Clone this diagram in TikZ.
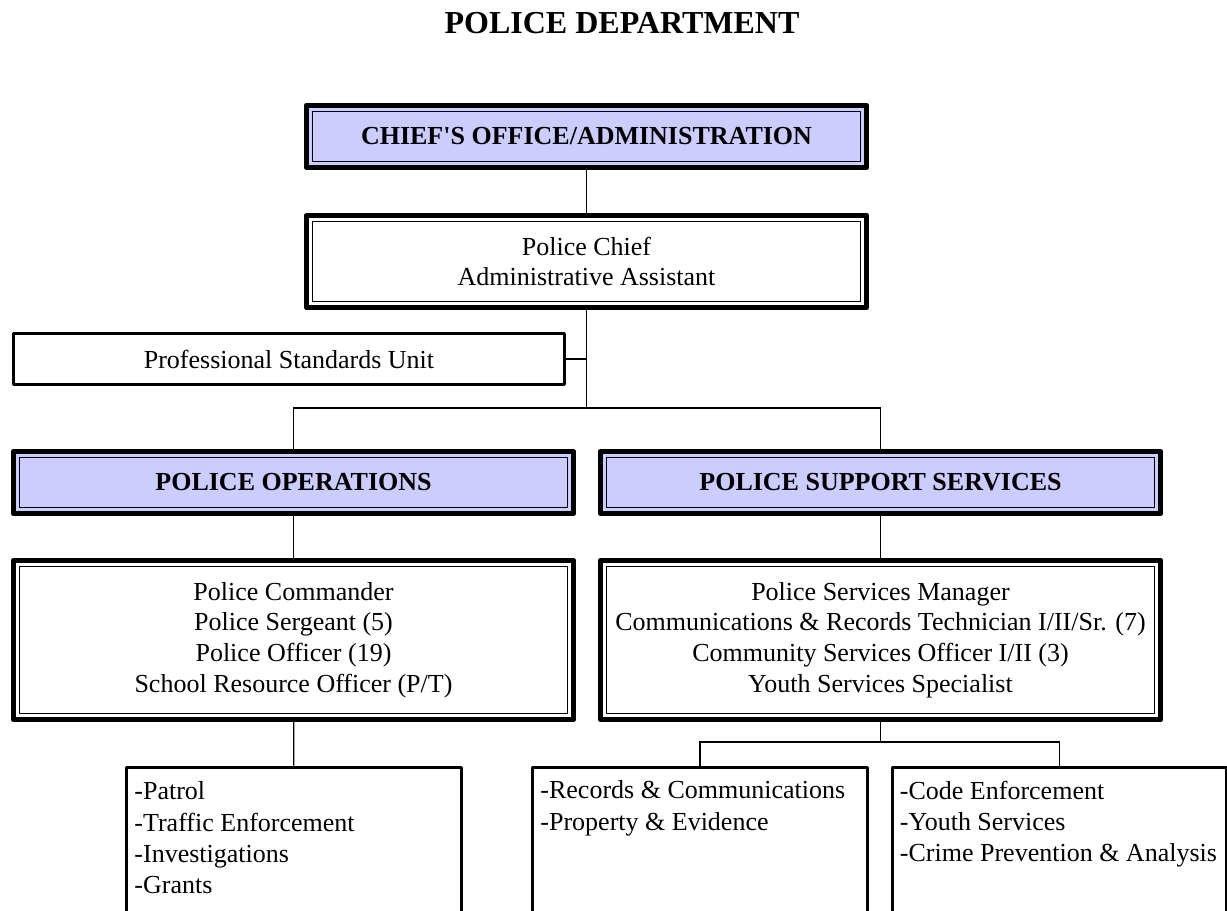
\documentclass[tikz,border=0pt]{standalone}
\usepackage{fontspec}
\setmainfont{Liberation Serif}
\usetikzlibrary{positioning,calc}
\definecolor{cHead}{HTML}{CCCCFF}
\tikzset{
  dblbox/.style ={draw,line width=4pt,line join=round,inner sep=0pt,align=center,
                  font=\fontsize{19.5}{23}\selectfont,
                  path picture={\draw[line width=0.8pt]
                    ([shift={(4.5pt,-4.5pt)}]path picture bounding box.north west) rectangle
                    ([shift={(-4.5pt,4.5pt)}]path picture bounding box.south east);}},
  hdbox/.style  ={dblbox,fill=cHead,font=\fontsize{19.5}{23}\selectfont\bfseries,
                  minimum width=420pt,minimum height=46.5pt},
  staff/.style  ={dblbox,fill=white,minimum width=420pt},
  subbox/.style ={draw,line width=2.25pt,line join=round,inner sep=0pt,fill=white,
                  font=\fontsize{19.5}{23.25}\selectfont},
  duty/.style   ={align=left,inner sep=0pt,anchor=north west,
                  font=\fontsize{19.5}{23.5}\selectfont},
  wire/.style   ={draw,line width=1pt},
}

\begin{document}
\begin{tikzpicture}[x=0.75pt,y=-0.75pt]
\useasboundingbox (0,0) rectangle (1227,910);
\clip (0,0) rectangle (1227,910);

\node[font=\fontsize{24}{28}\selectfont\bfseries] (title) at (622,23) {POLICE DEPARTMENT};

\node[hdbox] (chief) at (586.5,136.5) {CHIEF\textquotesingle S OFFICE/ADMINISTRATION};
\node[staff,minimum height=69pt] (pchief) at (586.5,261.5)
  {Police Chief\\Administrative Assistant};
\node[subbox,minimum width=413.25pt,minimum height=38.25pt] (psu) at (289,359)
  {Professional Standards Unit};

\node[hdbox] (ops) at (293.5,482.5) {POLICE OPERATIONS};
\node[hdbox] (sup) at (880.5,482.5) {POLICE SUPPORT SERVICES};

\node[staff,minimum height=119.25pt] (opsd) at (293.5,640)
  {Police Commander\\Police Sergeant (5)\\Police Officer (19)\\School Resource Officer (P/T)};
\node[staff,minimum height=119.25pt] (supd) at (880.5,640)
  {Police Services Manager\\Communications \& Records Technician I/II/Sr. (7)\\
   Community Services Officer I/II (3)\\Youth Services Specialist};

% open-ended boxes at the foot of the page
\foreach \n/\x in {bl/294,bm/700,br/1059.5}
  {\node[subbox,minimum width=251pt,minimum height=150pt,anchor=north] (\n) at (\x,765.5) {};}

\node[duty] (blt) at ($(bl.north west)+(9,16)$)
  {-Patrol\\-Traffic Enforcement\\-Investigations\\-Grants};
\node[duty] (bmt) at ($(bm.north west)+(9,15)$)
  {-Records \& Communications\\-Property \& Evidence};
\node[duty] (brt) at ($(br.north west)+(9,15)$)
  {-Code Enforcement\\-Youth Services\\-Crime Prevention \& Analysis};

\coordinate (jn) at (pchief.south |- 0,408);
\coordinate (jb) at (supd.south |- 0,742);

\draw[wire] (chief) -- (pchief);
\draw[wire] (pchief) -- (jn);
\draw[wire] (psu.east) -- (psu.east -| jn);
\draw[wire] (ops.north) |- (jn) -| (sup.north);
\draw[wire] (ops) -- (opsd);
\draw[wire] (sup) -- (supd);
\draw[wire] (opsd) -- (bl);
\draw[wire] (supd) -- (jb);
\draw[wire] (bm.north) |- (jb) -| (br.north);
\end{tikzpicture}
\end{document}
